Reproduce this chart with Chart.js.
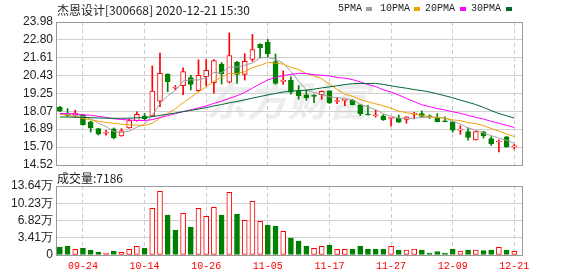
<!DOCTYPE html>
<html>
<head>
<meta charset="utf-8">
<script src="https://cdn.jsdelivr.net/npm/chart.js@4.4.1/dist/chart.umd.min.js"></script>
<style>
  html, body { margin: 0; padding: 0; background: #fff; }
  #wrap { position: relative; width: 578px; height: 276px; overflow: hidden; }
  canvas { position: absolute; left: 0; z-index: 1; }
  #kChart { top: 0; }
  #volChart { top: 168px; }
  .txt { position: absolute; white-space: nowrap; color: #222; z-index: 2; }
  .cjk { font-family: "Noto Sans CJK SC", sans-serif; font-size: 12px; }
  .mono { font-family: "Liberation Mono", monospace; font-size: 10px; }
  .sq { position: absolute; width: 6px; height: 4px; z-index: 2; }
  #wm { position: absolute; left: 206px; top: 70px; z-index: 0; color: #ededed;
        font-family: "Noto Sans CJK SC", sans-serif; font-size: 40px; font-weight: bold;
        font-style: italic; letter-spacing: 1px; white-space: nowrap; }
</style>
</head>
<body>
<div id="wrap">
  <div id="wm">东方财富</div>
  <div class="txt cjk" style="left:57px; top:1px;">杰恩设计[300668] 2020-12-21 15:30</div>

  <div class="txt mono" style="left:338px; top:3px;">5PMA</div>
  <div class="sq" style="left:366px; top:7px; background:#a0a0a0;"></div>
  <div class="txt mono" style="left:380px; top:3px;">10PMA</div>
  <div class="sq" style="left:414px; top:7px; background:#f0a000;"></div>
  <div class="txt mono" style="left:425px; top:3px;">20PMA</div>
  <div class="sq" style="left:460px; top:7px; background:#ff00ff;"></div>
  <div class="txt mono" style="left:471px; top:3px;">30PMA</div>
  <div class="sq" style="left:506px; top:7px; background:#006633;"></div>

  <div class="txt cjk" style="left:57px; top:169px;">成交量:7186</div>

  <canvas id="kChart" width="578" height="176"></canvas>
  <canvas id="volChart" width="578" height="108"></canvas>
</div>

<script>
// Nhãn trục và vạch chia
const dateTickIdx = [3, 11, 19, 27, 35, 43, 51, 59];
const dateTickLabels = ['09-24', '10-14', '10-26', '11-05', '11-17', '11-27', '12-09', '12-21'];
const priceTicks = [14.52, 15.70, 16.89, 18.07, 19.25, 20.43, 21.61, 22.80, 23.98];
const priceTickLabels = ['14.52', '15.70', '16.89', '18.07', '19.25', '20.43', '21.61', '22.80', '23.98'];
const volTicks = [0, 34100, 68200, 102300, 136400];
const volTickLabels = ['0', '3.41万', '6.82万', '10.23万', '13.64万'];

// Giá mở / cao / thấp / đóng (60 phiên)
const openP = [18.35, 17.84, 17.82, 17.84, 17.38, 16.93, 16.62, 16.92, 16.45, 16.97,
               17.46, 17.75, 17.76, 18.74, 20.54, 19.60, 19.77, 20.31, 19.43, 20.36,
               19.96, 21.20, 20.00, 21.31, 20.51, 21.50, 22.51, 22.65, 21.36, 20.05,
               20.14, 19.44, 19.16, 19.15, 19.18, 19.42, 18.72, 18.79, 18.82, 18.50,
               17.86, 17.78, 17.78, 17.60, 17.60, 17.53, 17.88, 17.92, 17.73, 17.66,
               17.40, 17.37, 16.83, 16.73, 16.18, 16.72, 16.27, 16.04, 16.38, 15.72];
const highP = [18.40, 18.25, 18.15, 17.88, 17.42, 16.95, 16.82, 16.97, 16.92, 17.57,
               18.04, 17.93, 21.07, 21.93, 20.56, 19.78, 20.95, 20.45, 21.48, 21.50,
               21.50, 21.30, 23.26, 21.37, 21.89, 23.16, 22.53, 22.83, 21.87, 20.75,
               20.36, 19.78, 19.48, 19.18, 19.42, 19.43, 19.00, 18.82, 18.86, 18.55,
               18.47, 18.15, 17.85, 17.66, 17.82, 17.72, 18.01, 18.11, 17.83, 17.92,
               17.70, 17.40, 17.12, 16.98, 16.75, 16.75, 16.40, 16.19, 16.42, 15.88];
const lowP = [18.05, 17.72, 17.66, 17.15, 16.70, 16.50, 16.50, 16.25, 16.42, 16.95,
              17.42, 17.50, 17.72, 18.38, 19.37, 19.50, 19.17, 19.48, 19.38, 19.77,
              19.28, 19.88, 19.95, 19.91, 20.14, 21.37, 21.60, 21.65, 19.86, 19.85,
              19.20, 18.87, 18.80, 18.65, 18.87, 18.58, 18.58, 18.45, 18.49, 17.79,
              17.82, 17.68, 17.47, 17.09, 17.33, 17.28, 17.57, 17.72, 17.60, 17.37,
              17.37, 16.69, 16.55, 16.16, 16.17, 16.30, 15.82, 15.38, 15.70, 15.57];
const closeP = [18.08, 17.80, 17.95, 17.17, 16.97, 16.56, 16.66, 16.33, 16.78, 17.46,
                17.88, 17.58, 19.41, 20.59, 20.03, 19.64, 20.70, 19.85, 20.46, 20.78,
                21.43, 20.54, 21.76, 20.51, 21.37, 22.16, 22.26, 21.87, 19.92, 20.10,
                19.33, 19.11, 18.98, 19.06, 19.40, 18.65, 18.75, 18.81, 18.51, 17.92,
                17.83, 17.81, 17.51, 17.62, 17.35, 17.70, 17.91, 17.74, 17.71, 17.39,
                17.38, 16.82, 16.86, 16.34, 16.73, 16.44, 15.91, 16.07, 15.72, 15.74];

// Đường trung bình động
const ma5 = [17.92, 17.86, 17.80, 17.72, 17.59, 17.29, 17.06, 16.74, 16.66, 16.76,
             17.02, 17.21, 17.82, 18.58, 19.10, 19.45, 20.07, 20.16, 20.14, 20.29,
             20.64, 20.61, 20.99, 21.00, 21.12, 21.27, 21.61, 21.63, 21.52, 21.26,
             20.70, 20.07, 19.49, 19.32, 19.18, 19.04, 18.97, 18.93, 18.82, 18.53,
             18.36, 18.18, 17.92, 17.74, 17.62, 17.60, 17.62, 17.66, 17.68, 17.69,
             17.63, 17.41, 17.23, 16.96, 16.83, 16.64, 16.46, 16.30, 16.15, 15.95];
const ma10 = [17.88, 17.80, 17.72, 17.60, 17.50, 17.42, 17.33, 17.28, 17.22, 17.18,
              17.16, 17.13, 17.28, 17.62, 17.93, 18.24, 18.64, 18.99, 19.36, 19.69,
              20.05, 20.34, 20.58, 20.57, 20.70, 20.96, 21.11, 21.31, 21.26, 21.19,
              20.98, 20.84, 20.56, 20.42, 20.22, 19.87, 19.52, 19.21, 19.07, 18.85,
              18.70, 18.57, 18.43, 18.28, 18.08, 17.98, 17.90, 17.79, 17.71, 17.66,
              17.61, 17.51, 17.45, 17.32, 17.26, 17.13, 16.93, 16.77, 16.57, 16.40];
const ma20 = [17.93, 17.92, 17.90, 17.84, 17.81, 17.74, 17.67, 17.58, 17.53, 17.50,
              17.47, 17.46, 17.52, 17.66, 17.78, 17.92, 18.05, 18.17, 18.30, 18.43,
              18.60, 18.74, 18.93, 19.10, 19.32, 19.60, 19.88, 20.15, 20.31, 20.44,
              20.51, 20.59, 20.57, 20.49, 20.46, 20.41, 20.31, 20.26, 20.17, 20.02,
              19.84, 19.71, 19.49, 19.35, 19.15, 18.92, 18.71, 18.50, 18.39, 18.25,
              18.16, 18.04, 17.94, 17.80, 17.67, 17.56, 17.41, 17.28, 17.14, 17.00];
const ma30 = [17.70, 17.69, 17.68, 17.67, 17.65, 17.63, 17.62, 17.61, 17.61, 17.62,
              17.64, 17.66, 17.72, 17.80, 17.88, 17.96, 18.05, 18.13, 18.22, 18.32,
              18.43, 18.52, 18.63, 18.72, 18.83, 18.94, 19.05, 19.16, 19.25, 19.35,
              19.40, 19.44, 19.47, 19.54, 19.62, 19.69, 19.76, 19.84, 19.90, 19.91,
              19.91, 19.92, 19.85, 19.76, 19.67, 19.60, 19.51, 19.44, 19.35, 19.23,
              19.10, 18.97, 18.81, 18.67, 18.52, 18.33, 18.12, 17.92, 17.78, 17.62];

// Khối lượng giao dịch và màu cột (1 = tăng, đỏ)
const volume = [15800, 17800, 11200, 13800, 9900, 5900, 4000, 7900, 5300, 11200,
                17100, 13800, 92200, 125800, 79100, 49400, 82300, 55300, 92200, 76400,
                94200, 79100, 123800, 81000, 68500, 106100, 66500, 59300, 57300, 46800,
                33600, 27700, 17800, 13200, 17100, 19800, 11200, 11200, 11900, 17800,
                11900, 11900, 11900, 17100, 9900, 9900, 11900, 9900, 4000, 6600,
                4000, 11900, 7900, 9900, 9900, 8600, 9900, 15200, 9900, 7186];
const volUp = [0, 0, 1, 0, 0, 0, 1, 0, 1, 1,
               1, 0, 1, 1, 0, 0, 1, 0, 1, 1,
               1, 0, 1, 0, 1, 1, 1, 0, 0, 1,
               0, 0, 0, 1, 1, 0, 1, 1, 0, 0,
               0, 0, 0, 1, 0, 1, 1, 0, 0, 0,
               0, 0, 1, 0, 1, 0, 0, 1, 0, 1];

const RED = '#ff0000';
const GREEN = '#008000';
const candleUp = closeP.map((c, i) => c >= openP[i]);

function pts(arr) {
    return arr.map((v, i) => ({ x: i, y: v }));
}

// Khung viền vùng vẽ
const boxBorder = {
    id: 'boxBorder',
    afterDatasetsDraw(chart) {
        const a = chart.chartArea;
        const ctx = chart.ctx;
        ctx.save();
        ctx.strokeStyle = '#999999';
        ctx.lineWidth = 1;
        ctx.strokeRect(Math.round(a.left) + 0.5, Math.round(a.top) + 0.5,
                       Math.round(a.right - a.left), Math.round(a.bottom - a.top));
        ctx.restore();
    }
};

function xAxis(showLabels) {
    return {
        type: 'linear',
        min: -0.5,
        max: 60,
        offset: false,
        afterBuildTicks: s => { s.ticks = dateTickIdx.map(v => ({ value: v })); },
        afterFit: s => { s.height = showLabels ? 21 : 0; },
        grid: { color: '#cccccc', drawTicks: false, offset: false },
        border: { display: false, dash: [4, 3] },
        ticks: {
            display: showLabels,
            autoSkip: false,
            maxRotation: 0,
            padding: 5,
            color: RED,
            font: { family: 'Liberation Mono', size: 10 },
            callback: (v, i) => dateTickLabels[i]
        }
    };
}

function yAxis(min, max, ticks, labels) {
    return {
        min: min,
        max: max,
        afterBuildTicks: s => { s.ticks = ticks.map(v => ({ value: v })); },
        afterFit: s => { s.width = 56; },
        grid: { color: '#d0d0d0', drawTicks: false },
        border: { display: false },
        ticks: {
            autoSkip: false,
            padding: 3,
            color: '#222',
            font: { family: 'Liberation Sans', size: 12 },
            callback: (v, i) => labels[i]
        }
    };
}

function maLine(data, color) {
    return {
        type: 'line',
        data: pts(data),
        borderColor: color,
        borderWidth: 1,
        pointRadius: 0,
        tension: 0,
        order: 1
    };
}

// Khởi tạo biểu đồ nến
const kChart = new Chart(document.getElementById('kChart'), {
    type: 'bar',
    data: {
        datasets: [
            {
                data: closeP.map((c, i) => ({ x: i, y: [lowP[i], highP[i]] })),
                backgroundColor: candleUp.map(u => u ? RED : GREEN),
                borderWidth: 0,
                barThickness: 1,
                grouped: false,
                order: 4
            },
            {
                data: closeP.map((c, i) => ({ x: i, y: [openP[i], c] })),
                backgroundColor: candleUp.map(u => u ? '#ffffff' : GREEN),
                borderColor: candleUp.map(u => u ? RED : GREEN),
                borderWidth: 1,
                borderSkipped: false,
                barThickness: 5,
                minBarLength: 1,
                grouped: false,
                order: 3
            },
            maLine(ma30, '#006633'),
            maLine(ma20, '#ff00ff'),
            maLine(ma10, '#f0a000'),
            maLine(ma5, '#a0a0a0')
        ]
    },
    options: {
        responsive: false,
        animation: false,
        layout: { padding: { left: 0, right: 56, top: 22, bottom: 11 } },
        plugins: { legend: { display: false }, tooltip: { enabled: false } },
        scales: {
            x: xAxis(false),
            y: yAxis(14.52, 23.98, priceTicks, priceTickLabels)
        }
    },
    plugins: [boxBorder]
});

// Khởi tạo biểu đồ khối lượng
const volChart = new Chart(document.getElementById('volChart'), {
    type: 'bar',
    data: {
        datasets: [{
            data: pts(volume),
            backgroundColor: volUp.map(u => u ? '#ffffff' : GREEN),
            borderColor: volUp.map(u => u ? RED : GREEN),
            borderWidth: 1,
            borderSkipped: false,
            barThickness: 5
        }]
    },
    options: {
        responsive: false,
        animation: false,
        layout: { padding: { left: 0, right: 56, top: 18, bottom: 0 } },
        plugins: { legend: { display: false }, tooltip: { enabled: false } },
        scales: {
            x: xAxis(true),
            y: yAxis(0, 136400, volTicks, volTickLabels)
        }
    },
    plugins: [boxBorder]
});
</script>
</body>
</html>
